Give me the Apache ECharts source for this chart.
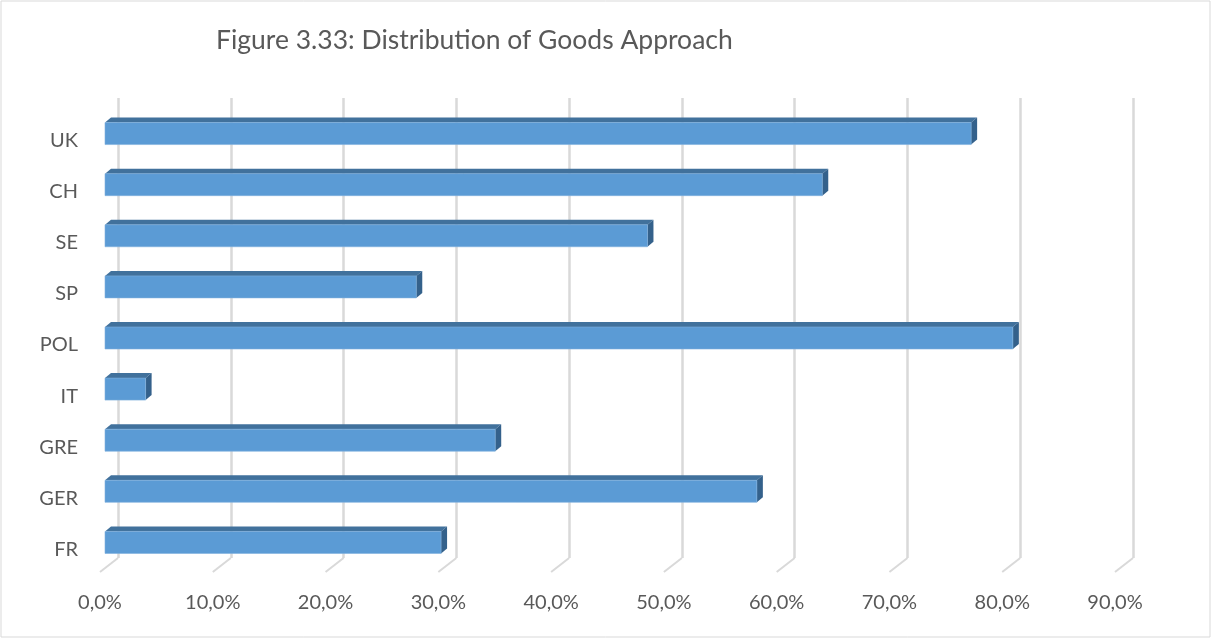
<!DOCTYPE html>
<html>
<head>
<meta charset="utf-8">
<script src="https://cdn.jsdelivr.net/npm/echarts@6/dist/echarts.min.js"></script>
<style>
  html, body { margin: 0; padding: 0; background: #fff; }
  #chart { width: 1212px; height: 640px; }
</style>
</head>
<body>
<div id="chart"></div>
<script>
// data (percent)
var categories = ['UK', 'CH', 'SE', 'SP', 'POL', 'IT', 'GRE', 'GER', 'FR'];
var values = [76.8, 63.6, 48.1, 27.6, 80.5, 3.6, 34.6, 57.8, 29.8];
var xTicks = [0, 10, 20, 30, 40, 50, 60, 70, 80, 90];

// fake 3d offsets
var frontDx = -13, frontDy = 10;
var backDx = -7, backDy = 5;
var barHalf = 11;

function renderBar(params, api) {
    var idx = api.value(0);
    var val = api.value(1);
    var p0 = api.coord([0, idx]);
    var p1 = api.coord([val, idx]);
    var yc = p1[1];
    var fx0 = p0[0] + frontDx, fx1 = p1[0] + frontDx;
    var fy0 = yc - barHalf + frontDy, fy1 = yc + barHalf + frontDy;
    var bx0 = p0[0] + backDx, bx1 = p1[0] + backDx;
    var by0 = yc - barHalf + backDy, by1 = yc + barHalf + backDy;
    return {
        type: 'group',
        children: [
            { type: 'polygon', shape: { points: [[fx0, fy0], [fx1, fy0], [bx1, by0], [bx0, by0]] },
              style: { fill: '#41719c' } },
            { type: 'polygon', shape: { points: [[fx1, fy0], [bx1, by0], [bx1, by1], [fx1, fy1]] },
              style: { fill: '#34618b' } },
            { type: 'rect', shape: { x: fx0, y: fy0, width: fx1 - fx0, height: fy1 - fy0 },
              style: { fill: '#5b9bd5', stroke: '#7fb0de', lineWidth: 0.6 } }
        ]
    };
}

function renderFloor(params, api) {
    var v = api.value(0);
    var p = api.coord([v, categories.length - 1]);
    var half = api.size([0, 1])[1] / 2;
    var y = p[1] + half;
    return {
        type: 'line',
        shape: { x1: p[0], y1: y, x2: p[0] - 18, y2: y + 14 },
        style: { stroke: '#d9d9d9', lineWidth: 2 }
    };
}

var chart = echarts.init(document.getElementById('chart'));
chart.setOption({
    animation: false,
    backgroundColor: '#fff',
    title: {
        text: 'Figure 3.33: Distribution of Goods Approach',
        left: 211,
        top: 22,
        textStyle: { fontFamily: 'Lato', fontWeight: 'normal', fontSize: 26.5, color: '#595959' }
    },
    graphic: [{
        type: 'rect',
        shape: { x: 1, y: 1, width: 1209, height: 636 },
        style: { fill: 'none', stroke: '#d9d9d9', lineWidth: 1 },
        silent: true
    }],
    grid: { left: 118, right: 79, top: 98, bottom: 82 },
    xAxis: {
        type: 'value',
        min: 0,
        max: 90,
        interval: 10,
        axisLine: { show: false },
        axisTick: { show: false },
        splitLine: { show: true, lineStyle: { color: '#d9d9d9', width: 2.5 } },
        axisLabel: {
            margin: 35,
            padding: [0, 36, 0, 0],
            fontFamily: 'Lato',
            fontSize: 20,
            color: '#595959',
            formatter: function (v) { return v.toFixed(1).replace('.', ',') + '%'; }
        }
    },
    yAxis: {
        type: 'category',
        data: categories,
        inverse: true,
        axisLine: { show: false },
        axisTick: { show: false },
        axisLabel: {
            margin: 40,
            verticalAlign: 'top',
            padding: [7, 0, 0, 0],
            fontFamily: 'Lato',
            fontSize: 20,
            color: '#595959'
        }
    },
    series: [
        {
            type: 'custom',
            renderItem: renderFloor,
            data: xTicks.map(function (t) { return [t]; }),
            encode: { x: 0 },
            silent: true,
            z: 1
        },
        {
            type: 'custom',
            renderItem: renderBar,
            data: values.map(function (v, i) { return [i, v]; }),
            encode: { y: 0, x: 1 },
            z: 3
        }
    ]
});
</script>
</body>
</html>
